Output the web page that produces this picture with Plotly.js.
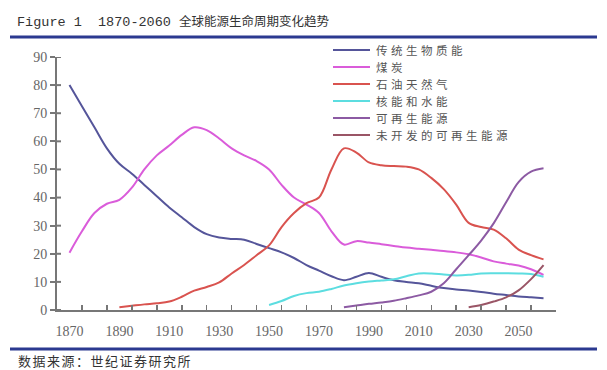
<!DOCTYPE html>
<html><head><meta charset="utf-8">
<script src="https://cdn.plot.ly/plotly-3.0.1.min.js"></script>
<style>html,body{margin:0;padding:0;background:#fff;}</style>
</head><body>
<div id="chart" style="width:607px;height:370px"></div>
<script>
// ---- data ----
const seriesNames = ['传统生物质能','煤炭','石油天然气','核能和水能','可再生能源','未开发的可再生能源'];
const titleLatin = 'Figure 1  1870-2060 ';
const titleCJK = '全球能源生命周期变化趋势';
const sourceText = '数据来源：世纪证券研究所';
const xTickLabels = [1870,1890,1910,1930,1950,1970,1990,2010,2030,2050];
const yTicks = [0,10,20,30,40,50,60,70,80,90];

const yearsFull = [1870,1875,1880,1885,1890,1895,1900,1905,1910,1915,1920,1925,1930,1935,1940,1945,1950,1955,1960,1965,1970,1975,1980,1985,1990,1995,2000,2005,2010,2015,2020,2025,2030,2035,2040,2045,2050,2055,2060];
const biomass = [80,72.5,65,57.5,52,48.5,44.5,40.5,36.5,33,29.5,27,25.8,25.3,25,23.5,22,20.5,18.5,16,14,12,10.6,11.8,13.2,11.8,10.6,10,9.5,8.6,7.8,7.3,6.9,6.4,5.8,5.3,4.8,4.5,4.2];
const coal = [20.4,28,34.5,37.8,39.2,43.5,50,55,58.5,62.3,65,64,61,57.5,55,53,50,44.5,40,37.5,34.5,28,23.3,24.5,24,23.4,22.8,22.2,21.8,21.4,21,20.5,19.8,18.7,17.3,16.5,15.8,14.5,12.5];

const oilYears = [1890,1895,1900,1905,1910,1915,1920,1925,1930,1935,1940,1945,1950,1955,1960,1965,1970,1975,1980,1985,1990,1995,2000,2005,2010,2015,2020,2025,2030,2035,2040,2045,2050,2055,2060];
const oil = [1.0,1.5,2.0,2.4,3.0,4.7,6.9,8.2,9.8,13,16,19.5,23,29.5,34.5,38,40,50,57.5,56,52.5,51.5,51.2,51,50,47,43,37.5,31,29.5,28.6,25.5,21.5,19.5,18];

const nuclearYears = [1950,1955,1960,1965,1970,1975,1980,1985,1990,1995,2000,2005,2010,2015,2020,2025,2030,2035,2040,2045,2050,2055,2060];
const nuclear = [1.8,3.2,5.0,6.0,6.5,7.5,8.7,9.5,10.1,10.5,10.9,12,13,13,12.6,12.3,12.5,13,13.1,13.1,13,12.8,11.8];

const renewYears = [1980,1985,1990,1995,2000,2005,2010,2015,2020,2025,2030,2035,2040,2045,2050,2055,2060];
const renew = [1.0,1.6,2.2,2.7,3.3,4.2,5.2,6.5,9.5,14.5,19.5,24.7,30.8,38.3,45.5,49.2,50.4];

const undevYears = [2030,2035,2040,2045,2050,2055,2060];
const undev = [1.0,1.8,3.0,4.5,7,11,16];

// ---- style ----
const colors = ['#55559A','#DA5CDA','#D9534F','#5CDDE0','#8C5AA3','#9A5566'];
const xs = [yearsFull, yearsFull, oilYears, nuclearYears, renewYears, undevYears];
const ys = [biomass, coal, oil, nuclear, renew, undev];

const W = 607, H = 370;
const M = {l:57, r:51, t:57, b:60};
const pw = W - M.l - M.r, ph = H - M.t - M.b;
const px = p => (p - M.l) / pw;          // pixel x -> paper
const py = p => (H - M.b - p) / ph;      // pixel y -> paper

const traces = ys.map((y, i) => ({
  x: xs[i], y: y, name: seriesNames[i], type: 'scatter', mode: 'lines',
  line: {color: colors[i], width: 2, shape: 'spline', smoothing: 1},
  showlegend: false, hoverinfo: 'skip'
}));

const shapes = [];
const annotations = [];
// rules
shapes.push({type:'line', xref:'paper', yref:'paper', x0:px(10), x1:px(597), y0:py(37), y1:py(37), line:{color:'#2B3990', width:3}});
shapes.push({type:'line', xref:'paper', yref:'paper', x0:px(10), x1:px(597), y0:py(349), y1:py(349), line:{color:'#2B3990', width:3}});
// inner halves of y ticks
yTicks.forEach(v => {
  shapes.push({type:'line', xref:'paper', yref:'y', x0:0, x1:px(M.l + 4), y0:v, y1:v, line:{color:'#777', width:2}});
});
// title & source
annotations.push({xref:'paper', yref:'paper', x:px(15), y:py(21), xanchor:'left', yanchor:'middle', showarrow:false,
  text: titleLatin.replace(/ /g,'&nbsp;') + '<span style="font-family:\'Noto Sans CJK SC\';font-size:12.5px">' + titleCJK + '</span>',
  font:{family:'Liberation Mono', size:13.5, color:'#333'}});
annotations.push({xref:'paper', yref:'paper', x:px(16), y:py(360), xanchor:'left', yanchor:'middle', showarrow:false,
  text: '<span style="letter-spacing:1.5px">' + sourceText + '</span>', font:{family:'Noto Sans CJK SC', size:13, color:'#333'}});
// custom legend
seriesNames.forEach((n, i) => {
  const yy = 50 + i * 17;
  shapes.push({type:'line', xref:'paper', yref:'paper', x0:px(333), x1:px(370), y0:py(yy), y1:py(yy), line:{color:colors[i], width:2}});
  annotations.push({xref:'paper', yref:'paper', x:px(374), y:py(yy), xanchor:'left', yanchor:'middle', showarrow:false,
    text:'<span style="letter-spacing:3.5px">' + n + '</span>', font:{family:'Noto Sans CJK SC', size:11.5, color:'#555'}});
});

const layout = {
  width: W, height: H,
  margin: M,
  paper_bgcolor: '#fff', plot_bgcolor: '#fff',
  showlegend: false,
  xaxis: {
    range: [1865, 2065], tickmode: 'array', tickvals: xTickLabels, ticktext: xTickLabels.map(String),
    ticks: 'inside', ticklen: 0, showgrid: false, zeroline: false, ticklabelstandoff: 7,
    showline: true, linecolor: '#777', linewidth: 2,
    tickfont: {family: 'Liberation Serif', size: 14, color: '#666'},
    minor: {tick0: 1865, dtick: 10, ticks: 'inside', ticklen: 5, tickwidth: 1.5, tickcolor: '#777', showgrid: false}
  },
  yaxis: {
    range: [0, 90], tickmode: 'array', tickvals: yTicks, ticks: 'outside', ticklen: 5, tickwidth: 2, tickcolor: '#777',
    showgrid: false, zeroline: false, showline: true, linecolor: '#777', linewidth: 2,
    tickfont: {family: 'Liberation Serif', size: 14, color: '#666'}
  },
  shapes: shapes, annotations: annotations
};
Plotly.newPlot('chart', traces, layout, {staticPlot: true, displayModeBar: false});
</script>
</body></html>
